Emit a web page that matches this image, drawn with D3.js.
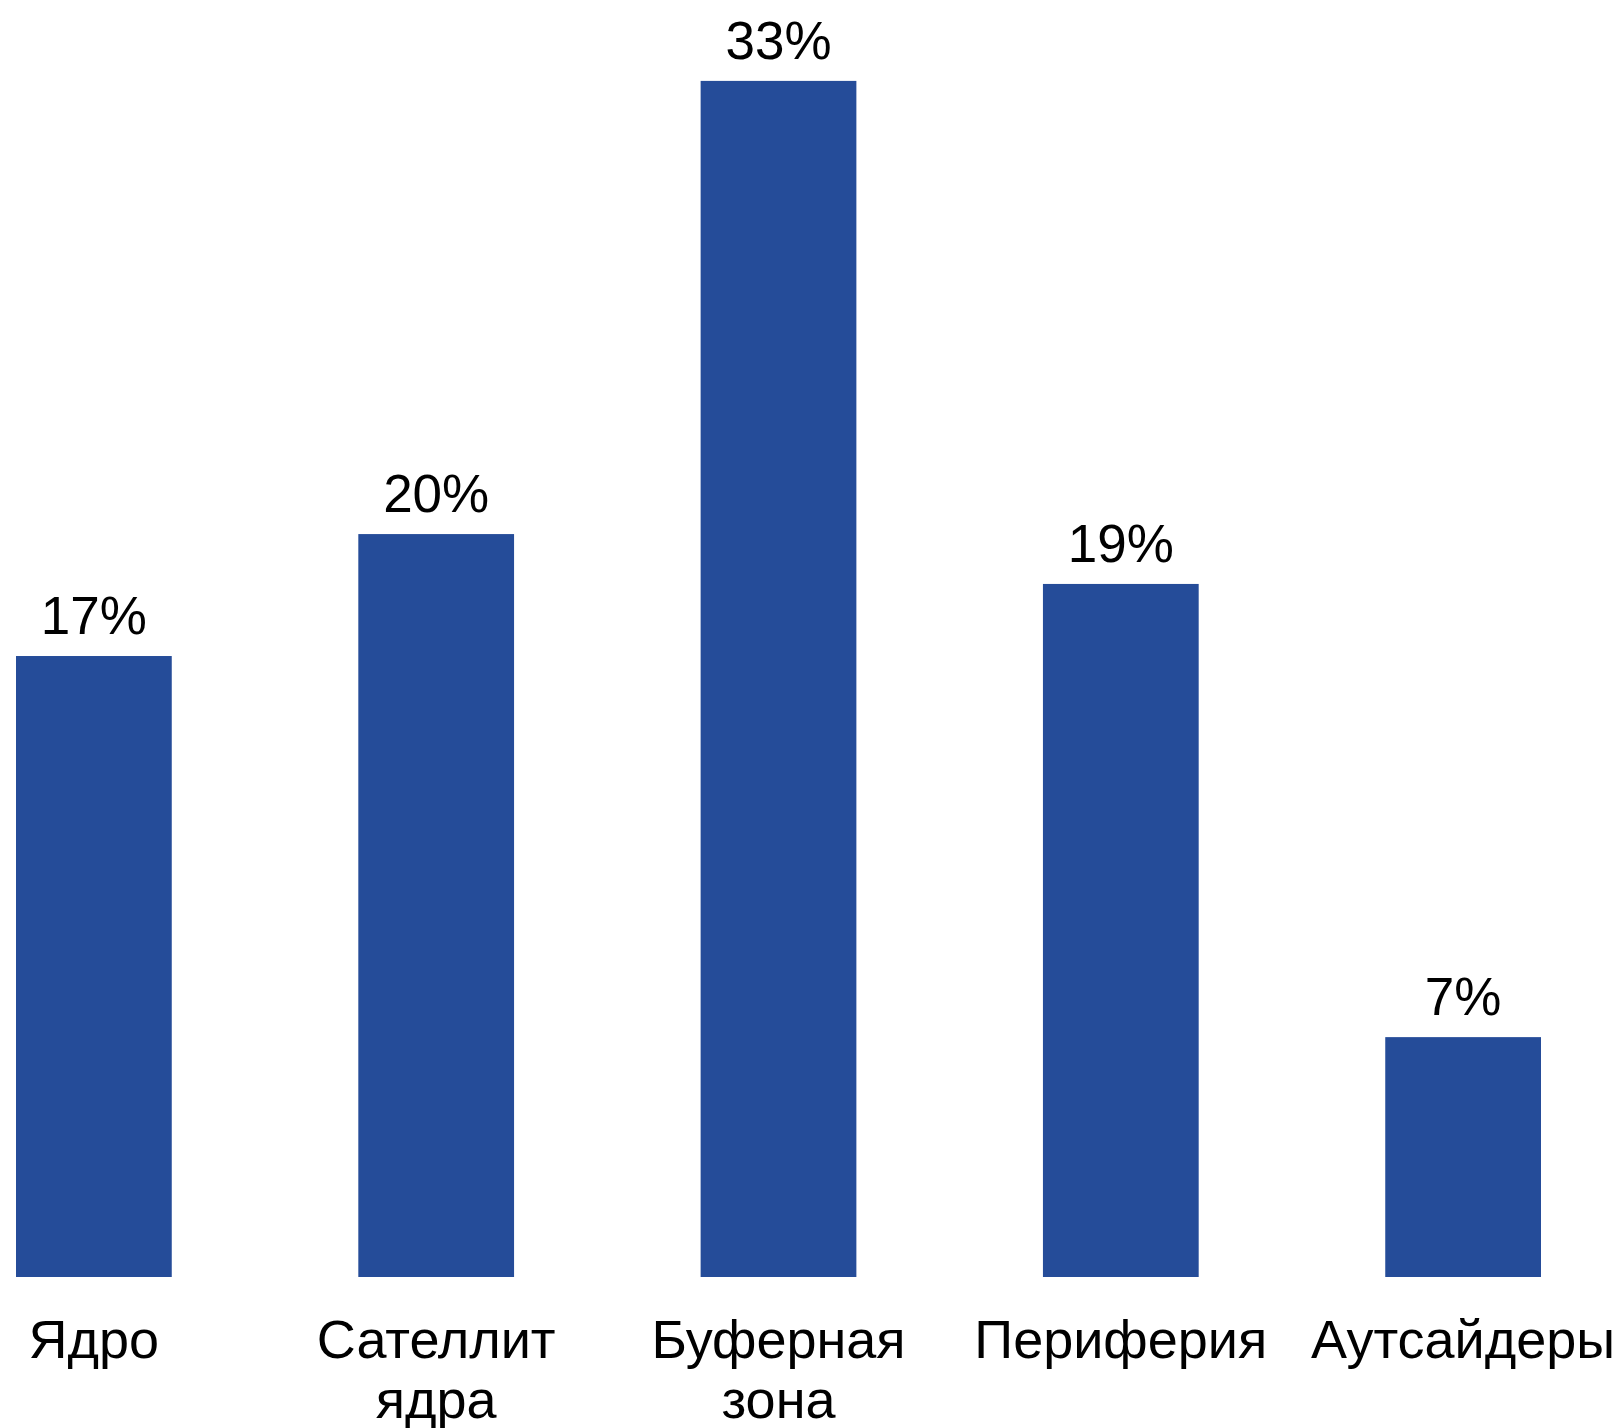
<!DOCTYPE html>
<html>
<head>
<meta charset="utf-8">
<script src="https://cdn.jsdelivr.net/npm/d3@7"></script>
<style>
  html, body { margin: 0; padding: 0; background: #fff; }
  svg { display: block; }
  text { font-family: "Liberation Sans", Arial, sans-serif; fill: #000; }
</style>
</head>
<body>
<svg id="chart" width="1619" height="1428"></svg>
<script>
const categories = ["Ядро", "Сателлит ядра", "Буферная зона", "Периферия", "Аутсайдеры"];
const values = [17.06, 20.41, 32.86, 19.04, 6.59];
const barColor = "#254C99";

const svg = d3.select("#chart");

const x = d3.scaleBand()
  .domain(categories)
  .range([16, 1541])
  .paddingInner(0.545)
  .paddingOuter(0);

const y = d3.scaleLinear()
  .domain([0, 35])
  .range([1277, 3]);

const fmt = v => d3.format(".0f")(v) + "%";

svg.selectAll("rect.bar")
  .data(categories)
  .join("rect")
  .attr("class", "bar")
  .attr("x", d => x(d))
  .attr("width", x.bandwidth())
  .attr("y", (d, i) => y(values[i]))
  .attr("height", (d, i) => y(0) - y(values[i]))
  .attr("fill", barColor);

svg.selectAll("text.val")
  .data(categories)
  .join("text")
  .attr("class", "val")
  .attr("x", d => x(d) + x.bandwidth() / 2)
  .attr("y", (d, i) => y(values[i]) - 22)
  .attr("text-anchor", "middle")
  .attr("font-size", 53)
  .text((d, i) => fmt(values[i]));

// category axis labels (wrapped by band step)
const maxW = x.step();
const catG = svg.append("g");
categories.forEach(c => {
  const cx = x(c) + x.bandwidth() / 2;
  const t = catG.append("text")
    .attr("x", cx)
    .attr("y", 1358)
    .attr("text-anchor", "middle")
    .attr("font-size", 54);
  const words = c.split(" ");
  let line = [];
  let tspan = t.append("tspan").attr("x", cx).attr("dy", 0);
  words.forEach(w => {
    line.push(w);
    tspan.text(line.join(" "));
    if (tspan.node().getComputedTextLength() > maxW && line.length > 1) {
      line.pop();
      tspan.text(line.join(" "));
      line = [w];
      tspan = t.append("tspan").attr("x", cx).attr("dy", 60).text(w);
    }
  });
});
</script>
</body>
</html>
